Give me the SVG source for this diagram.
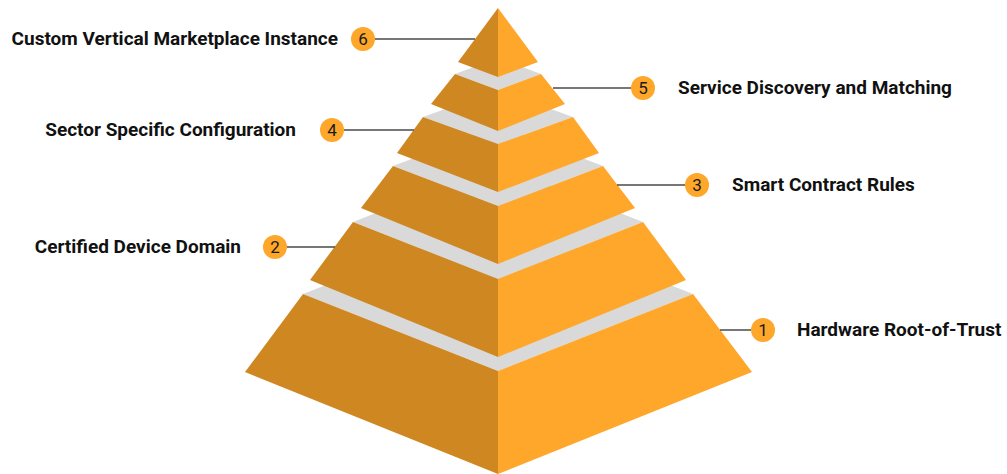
<svg xmlns="http://www.w3.org/2000/svg" width="1007" height="474" viewBox="0 0 1007 474">
<style>
.l{fill:#CF8722}
.r{fill:#FEA72A}
.g{fill:#D9D9D9}
.c{fill:#FEA72A}
.n{font-family:Roboto,"Liberation Sans",sans-serif;font-size:17px;fill:#1a1a1a;text-anchor:middle}
.t{font-family:Roboto,"Liberation Sans",sans-serif;font-size:19px;font-weight:700;fill:#111}
.k{stroke:#4a4a4a;stroke-width:1.5;fill:none}
</style>
<rect width="1007" height="474" fill="#fff"/>
<g id="layer1">
<polygon class="g" points="303,294 498,217 693,294 498,371"/>
<polygon class="l" points="303,294 498,371 498,474 245,372"/>
<polygon class="r" points="498,371 693,294 752,372 498,474"/>
</g>
<g id="layer2">
<polygon class="g" points="353,222 498,165 643,222 498,279"/>
<polygon class="l" points="353,222 498,279 498,357 310,280"/>
<polygon class="r" points="498,279 643,222 686,280 498,357"/>
</g>
<g id="layer3">
<polygon class="g" points="393,166 498,126 603,166 498,206"/>
<polygon class="l" points="393,166 498,206 498,264 361,208"/>
<polygon class="r" points="498,206 603,166 635,208 498,264"/>
</g>
<g id="layer4">
<polygon class="g" points="423,117 498,90 573,117 498,144"/>
<polygon class="l" points="423,117 498,144 498,192 397,153"/>
<polygon class="r" points="498,144 573,117 599,153 498,192"/>
</g>
<g id="layer5">
<polygon class="g" points="455,74 498,58 541,74 498,90"/>
<polygon class="l" points="455,74 498,90 498,131 431,104"/>
<polygon class="r" points="498,90 541,74 565,104 498,131"/>
</g>
<g id="layer6">
<polygon class="l" points="498,8 498,77 458,62"/>
<polygon class="r" points="498,8 538,62 498,77"/>
</g>
<g id="connectors">
<line class="k" x1="375" y1="39" x2="475" y2="39"/>
<line class="k" x1="553" y1="88" x2="631" y2="88"/>
<line class="k" x1="344" y1="130" x2="414" y2="130"/>
<line class="k" x1="617" y1="185" x2="685" y2="185"/>
<line class="k" x1="287" y1="247" x2="335" y2="247"/>
<line class="k" x1="720" y1="330" x2="751" y2="330"/>
</g>
<g id="label6"><circle class="c" cx="363" cy="39" r="12"/><text class="n" x="363" y="45">6</text><text class="t" x="338" y="45" text-anchor="end">Custom Vertical Marketplace Instance</text></g>
<g id="label5"><circle class="c" cx="643" cy="88" r="12"/><text class="n" x="643" y="94">5</text><text class="t" x="678" y="94">Service Discovery and Matching</text></g>
<g id="label4"><circle class="c" cx="332" cy="130" r="12"/><text class="n" x="332" y="136">4</text><text class="t" x="296" y="136" text-anchor="end">Sector Specific Configuration</text></g>
<g id="label3"><circle class="c" cx="697" cy="185" r="12"/><text class="n" x="697" y="191">3</text><text class="t" x="732" y="191">Smart Contract Rules</text></g>
<g id="label2"><circle class="c" cx="275" cy="247" r="12"/><text class="n" x="275" y="253">2</text><text class="t" x="241" y="253" text-anchor="end">Certified Device Domain</text></g>
<g id="label1"><circle class="c" cx="763" cy="330" r="12"/><text class="n" x="763" y="336">1</text><text class="t" x="797" y="336">Hardware Root-of-Trust</text></g>
</svg>
